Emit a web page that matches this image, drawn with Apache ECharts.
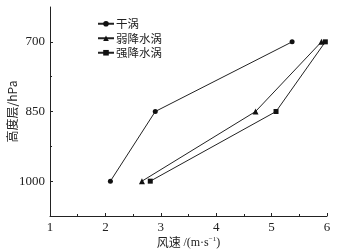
<!DOCTYPE html>
<html><head><meta charset="utf-8">
<script src="https://cdn.jsdelivr.net/npm/echarts@6/dist/echarts.min.js"></script>
<style>html,body{margin:0;padding:0;background:#fff}#c{width:340px;height:251px}</style>
</head><body><div id="c"></div>
<script>
var levels = [700, 850, 1000];
var seriesNames = ['干涡', '弱降水涡', '强降水涡'];
var dryVortex = [5.37, 2.90, 2.09];
var weakVortex = [5.90, 4.71, 2.66];
var strongVortex = [5.97, 5.08, 2.81];
var xTicks = [1, 2, 3, 4, 5, 6];
var yTicks = [700, 850, 1000];
var yMinorTicks = [775, 925];

var serifFont = 'Liberation Serif';
var cjkFont = 'Noto Sans CJK SC';
var symbols = ['circle', 'triangle', 'rect'];
var sizes = [5, 6, 5];
var allData = [dryVortex, weakVortex, strongVortex];

function pairs(vals) { return vals.map(function (v, i) { return [v, levels[i]]; }); }

var chart = echarts.init(document.getElementById('c'), null, {renderer: 'canvas'});
chart.setOption({
  animation: false,
  backgroundColor: '#fff',
  grid: {left: 50, right: 13, top: 7, bottom: 35, containLabel: false, outerBoundsMode: 'none'},
  legend: {
    orient: 'vertical', left: 92, top: 13,
    itemWidth: 16, itemHeight: 7, itemGap: 3,
    textStyle: {fontFamily: cjkFont, fontSize: 11.5, color: '#222', padding: [0, 0, 0, -3]},
    data: seriesNames
  },
  xAxis: {
    type: 'value', min: 1, max: 6, interval: 1,
    name: '风速 {s|/(m·s}{sup|−1}{s|)}', nameLocation: 'middle', nameGap: 20, nameMoveOverlap: false,
    nameTextStyle: {fontFamily: cjkFont, fontSize: 12, color: '#222',
      rich: {
        s: {fontFamily: serifFont, fontSize: 12, color: '#222'},
        sup: {fontSize: 7, verticalAlign: 'top', padding: [0, 0, 6, 0], fontFamily: serifFont, color: '#222'}
      }},
    axisLine: {show: true, lineStyle: {color: '#222', width: 1}},
    axisTick: {show: true, inside: true, length: 3, lineStyle: {color: '#222'}},
    minorTick: {show: true, splitNumber: 2, length: 2, lineStyle: {color: '#222'}},
    axisLabel: {fontFamily: serifFont, fontSize: 13, color: '#222', margin: 5},
    splitLine: {show: false}
  },
  yAxis: [{
    type: 'value', min: 625, max: 1075, inverse: true, offset: 0,
    name: '高度层/hPa', nameLocation: 'middle', nameGap: 32, nameRotate: 90, nameMoveOverlap: false,
    nameTextStyle: {fontFamily: cjkFont, fontSize: 12, color: '#222'},
    axisLine: {show: true, lineStyle: {color: '#222', width: 1}},
    axisTick: {show: true, inside: true, length: 3, customValues: yTicks, lineStyle: {color: '#222'}},
    axisLabel: {fontFamily: serifFont, fontSize: 13, color: '#222', margin: 5, customValues: yTicks,
      formatter: function (v) { return String(v); }},
    splitLine: {show: false}
  }, {
    type: 'value', min: 625, max: 1075, inverse: true, position: 'left', offset: 0,
    axisLine: {show: false},
    axisTick: {show: true, inside: true, length: 2, customValues: yMinorTicks, lineStyle: {color: '#222'}},
    axisLabel: {show: false, customValues: yMinorTicks},
    splitLine: {show: false}
  }],
  series: seriesNames.map(function (n, i) {
    return {
      name: n, type: 'line', yAxisIndex: 0,
      data: pairs(allData[i]),
      symbol: symbols[i], symbolSize: sizes[i], showAllSymbol: true,
      lineStyle: {color: '#222', width: 1},
      itemStyle: {color: '#111', borderWidth: 0},
      z: 3
    };
  })
});
</script></body></html>
